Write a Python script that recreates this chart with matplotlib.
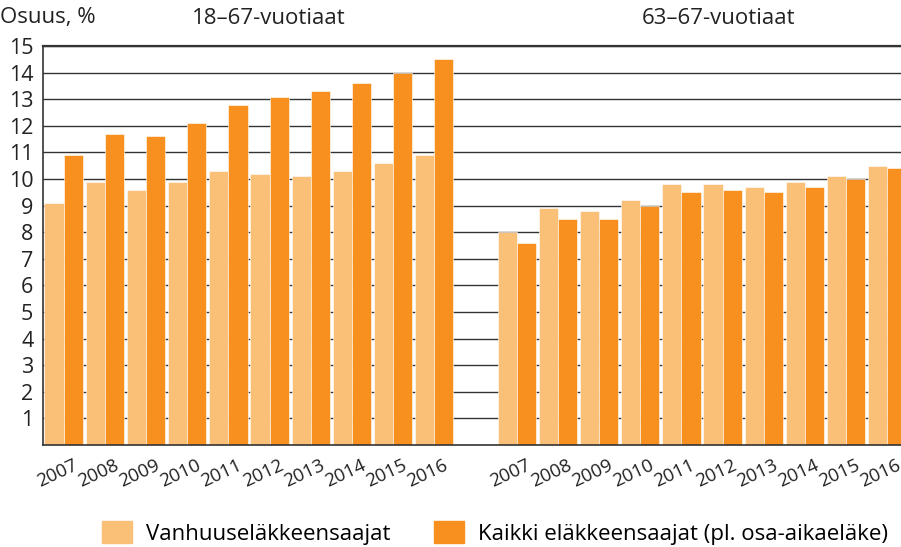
import matplotlib.pyplot as plt
import matplotlib.transforms as mtrans
from matplotlib.patches import Patch
import numpy as np

plt.rcParams['font.family'] = ['Open Sans', 'DejaVu Sans']

vuodet = ['2007', '2008', '2009', '2010', '2011', '2012', '2013', '2014', '2015', '2016']
# 18-67-vuotiaat
vanhuus_18 = [9.1, 9.9, 9.6, 9.9, 10.3, 10.2, 10.1, 10.3, 10.6, 10.9]
kaikki_18 = [10.9, 11.7, 11.6, 12.1, 12.8, 13.1, 13.3, 13.6, 14.0, 14.5]
# 63-67-vuotiaat
vanhuus_63 = [8.0, 8.9, 8.8, 9.2, 9.8, 9.8, 9.7, 9.9, 10.1, 10.5]
kaikki_63 = [7.6, 8.5, 8.5, 9.0, 9.5, 9.6, 9.5, 9.7, 10.0, 10.4]

vaalea = '#fbc077'
tumma = '#f7901e'

fig = plt.figure(figsize=(9.01, 5.47), dpi=100)
ax = fig.add_axes([43/901, 1-445/547, 1-43/901, 399/547])

x1 = np.arange(10)
x2 = np.arange(11, 21)
w = 0.465
for xs, v, k in [(x1, vanhuus_18, kaikki_18), (x2, vanhuus_63, kaikki_63)]:
    ax.bar(xs - w/2, v, w, color=vaalea, edgecolor='white', linewidth=0.4, zorder=2)
    ax.bar(xs + w/2, k, w, color=tumma, edgecolor='white', linewidth=0.4, zorder=2)

ax.set_xlim(-0.5, 20.33)
ax.set_ylim(0, 15)
ax.set_yticks(range(1, 16))
ax.tick_params(axis='y', length=0, labelsize=15.5, pad=7, colors='#222222')
ax.yaxis.grid(True, color='#333333', linewidth=1.0, zorder=1)
ax.set_axisbelow(True)
ax.spines['right'].set_visible(False)
ax.spines['top'].set_linewidth(1.6)
ax.spines['top'].set_color('#333333')
ax.spines['left'].set_color('#333333')
ax.spines['bottom'].set_color('#333333')
ax.spines['left'].set_linewidth(1.2)
ax.spines['bottom'].set_linewidth(1.2)

ax.set_xticks(list(x1) + list(x2))
ax.set_xticklabels(vuodet + vuodet, rotation=25, ha='right', rotation_mode='anchor', fontsize=13.5, color='#222222')
ax.tick_params(axis='x', length=0, pad=8)
siirto = mtrans.ScaledTranslation(9/100, 0, fig.dpi_scale_trans)
for lab in ax.get_xticklabels():
    lab.set_transform(lab.get_transform() + siirto)

fig.text(0.0, 1-18/547, 'Osuus, %', fontsize=16, va='center', ha='left', color='#222222')
fig.text(269/901, 1-18/547, '18–67-vuotiaat', fontsize=16, va='center', ha='center', color='#222222')
fig.text(719/901, 1-18/547, '63–67-vuotiaat', fontsize=16, va='center', ha='center', color='#222222')

handles = [Patch(color=vaalea, label='Vanhuuseläkkeensaajat'),
           Patch(color=tumma, label='Kaikki eläkkeensaajat (pl. osa-aikaeläke)')]
fig.legend(handles=handles, loc='center', bbox_to_anchor=(495/901, 1-533/547), ncol=2, frameon=False,
           fontsize=16, handlelength=1.35, handleheight=1.1, columnspacing=2.0, handletextpad=0.6)

fig.savefig('out.png', dpi=100)
